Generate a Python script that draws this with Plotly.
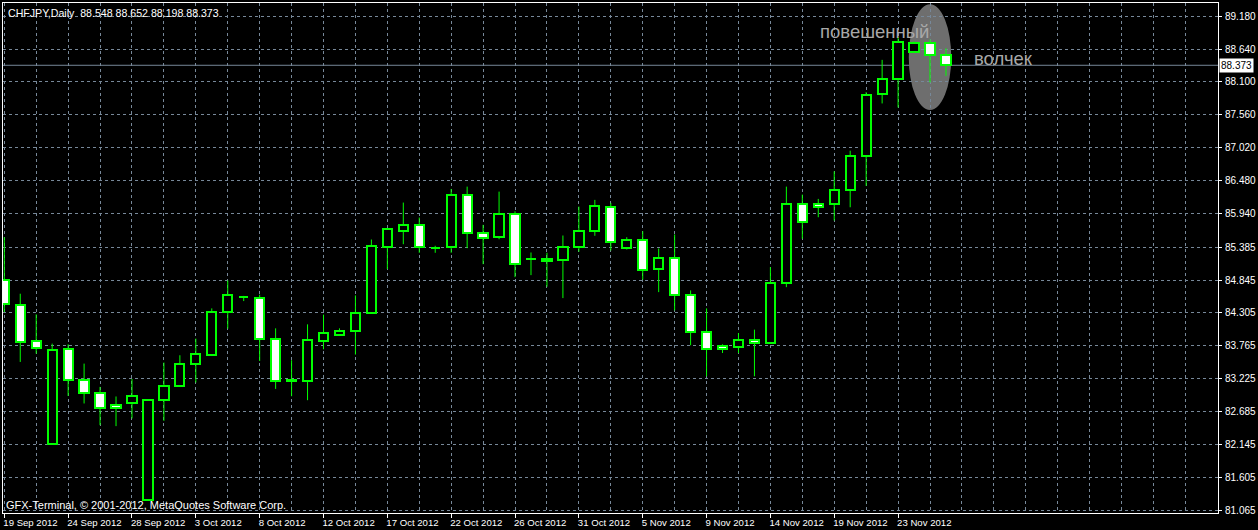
import plotly.graph_objects as go
from datetime import datetime

# ---------------- data ----------------
symbol = "CHFJPY"
timeframe = "Daily"

dates = [
    "2012-09-19", "2012-09-20", "2012-09-21", "2012-09-23", "2012-09-24", "2012-09-25",
    "2012-09-26", "2012-09-27", "2012-09-28", "2012-09-30", "2012-10-01", "2012-10-02",
    "2012-10-03", "2012-10-04", "2012-10-05", "2012-10-07", "2012-10-08", "2012-10-09",
    "2012-10-10", "2012-10-11", "2012-10-12", "2012-10-14", "2012-10-15", "2012-10-16",
    "2012-10-17", "2012-10-18", "2012-10-19", "2012-10-21", "2012-10-22", "2012-10-23",
    "2012-10-24", "2012-10-25", "2012-10-26", "2012-10-28", "2012-10-29", "2012-10-30",
    "2012-10-31", "2012-11-01", "2012-11-02", "2012-11-04", "2012-11-05", "2012-11-06",
    "2012-11-07", "2012-11-08", "2012-11-09", "2012-11-11", "2012-11-12", "2012-11-13",
    "2012-11-14", "2012-11-15", "2012-11-16", "2012-11-18", "2012-11-19", "2012-11-20",
    "2012-11-21", "2012-11-22", "2012-11-23", "2012-11-25", "2012-11-26", "2012-11-27",
]

opens = [
    84.839, 84.441, 83.851, 82.155, 83.713, 83.211, 82.982, 82.801, 82.818, 81.228,
    82.867, 83.106, 83.467, 83.621, 84.319, 84.572, 84.556, 83.883, 83.198, 83.195,
    83.851, 83.949, 84.015, 84.303, 85.392, 85.654, 85.752, 85.369, 85.392, 86.244,
    85.621, 85.555, 85.933, 85.195, 85.195, 85.178, 85.392, 85.654, 86.047, 85.375,
    85.506, 85.024, 85.211, 84.605, 83.998, 83.757, 83.752, 83.867, 83.818, 84.801,
    86.096, 86.096, 86.096, 86.326, 86.883, 87.900, 88.146, 88.598, 88.736, 88.548,
]
highs = [
    85.549, 84.621, 84.282, 83.801, 83.790, 83.473, 83.090, 82.933, 83.221, 82.870,
    83.490, 83.610, 83.883, 84.380, 84.839, 84.585, 84.605, 84.052, 83.528, 84.118,
    84.277, 84.052, 84.593, 85.511, 85.696, 86.118, 85.872, 85.408, 86.342, 86.380,
    85.752, 86.298, 85.975, 85.298, 85.293, 85.577, 86.052, 86.162, 86.113, 85.549,
    85.647, 85.364, 85.593, 84.675, 84.380, 83.790, 83.975, 84.031, 85.057, 86.380,
    86.249, 86.178, 86.631, 86.970, 87.932, 88.462, 88.839, 88.762, 88.795, 88.652,
]
lows = [
    84.319, 83.500, 83.637, 82.150, 82.942, 82.818, 82.462, 82.446, 82.572, 81.225,
    82.533, 83.090, 83.162, 83.610, 84.047, 84.500, 83.516, 83.057, 82.937, 82.872,
    83.708, 83.926, 83.621, 84.293, 85.024, 85.434, 85.293, 85.293, 85.293, 85.369,
    85.106, 85.516, 84.893, 84.926, 84.736, 84.549, 85.310, 85.572, 85.331, 85.347,
    84.851, 84.647, 84.347, 83.774, 83.265, 83.647, 83.647, 83.265, 83.815, 84.729,
    85.523, 85.877, 85.823, 86.041, 86.392, 87.746, 87.680, 88.577, 88.090, 88.198,
]
closes = [
    84.446, 83.834, 83.736, 83.703, 83.211, 82.982, 82.736, 82.736, 82.949, 82.867,
    83.097, 83.473, 83.626, 84.326, 84.605, 84.565, 83.883, 83.195, 83.190, 83.867,
    83.982, 84.015, 84.310, 85.401, 85.687, 85.752, 85.392, 85.364, 86.244, 85.621,
    85.539, 85.933, 85.113, 85.190, 85.162, 85.392, 85.654, 86.064, 85.474, 85.506,
    85.015, 85.211, 84.605, 83.998, 83.719, 83.719, 83.867, 83.818, 84.801, 86.096,
    85.801, 86.052, 86.326, 86.883, 87.893, 88.146, 88.752, 88.736, 88.544, 88.373,
]

price_tick_labels = [
    "89.180", "88.640", "88.100", "87.560", "87.020", "86.480", "85.940", "85.385",
    "84.845", "84.305", "83.765", "83.225", "82.685", "82.145", "81.605", "81.065",
]

label_hanging = "повешенный"
label_top = "волчек"
copyright_text = "GFX-Terminal, © 2001-2012, MetaQuotes Software Corp."

# ---------------- styling ----------------
GREEN = "#00ff00"
GRID = "#778899"
FONT = "Liberation Sans, Arial, sans-serif"
FS = 10

x = list(range(len(dates)))
bull = [c >= o for o, c in zip(opens, closes)]
body_base = [min(o, c) for o, c in zip(opens, closes)]
body_h = [abs(c - o) for o, c in zip(opens, closes)]
body_top = [max(o, c) for o, c in zip(opens, closes)]
fills = ["#000000" if b else "#ffffff" for b in bull]

wx, wy = [], []
for i in x:
    wx += [i, i, None, i, i, None]
    wy += [highs[i], body_top[i], None, body_base[i], lows[i], None]

fig = go.Figure()
fig.add_trace(go.Scatter(x=wx, y=wy, mode="lines", line=dict(color=GREEN, width=1),
                         hoverinfo="skip", showlegend=False))
fig.add_trace(go.Bar(x=x, y=body_h, base=body_base, width=0.58,
                     marker=dict(color=fills, line=dict(color=GREEN, width=2)),
                     hoverinfo="skip", showlegend=False))

tick_idx = x[::4]
tick_text = [f"{datetime.strptime(dates[i], '%Y-%m-%d').day} "
             f"{datetime.strptime(dates[i], '%Y-%m-%d').strftime('%b %Y')}" for i in tick_idx]

fig.update_layout(
    width=1258, height=530,
    margin=dict(l=2, r=38, t=2, b=17),
    paper_bgcolor="#000000", plot_bgcolor="#000000",
    font=dict(family=FONT, size=FS, color="#ffffff"),
    showlegend=False,
    bargap=0,
    xaxis=dict(
        range=[-0.081, 76.044], zeroline=False,
        tickmode="array", tickvals=tick_idx, ticktext=tick_text, tickangle=0,
        tickfont=dict(family=FONT, size=9.6, color="#ffffff"),
        ticks="outside", ticklen=4, tickcolor="#ffffff", tickwidth=1,
        ticklabelposition="outside right", ticklabelstandoff=0, ticklabelshift=-2,
        showgrid=True, gridcolor=GRID, griddash="3px,3px", gridwidth=1,
        minor=dict(tick0=0, dtick=2, showgrid=True, gridcolor=GRID,
                   griddash="3px,3px", gridwidth=1, ticks=""),
        showline=True, linecolor="#ffffff", linewidth=1, mirror=True,
        fixedrange=True,
    ),
    yaxis=dict(
        range=[81.019, 89.396], side="right", zeroline=False,
        tickmode="array", tickvals=[float(v) for v in price_tick_labels],
        ticktext=price_tick_labels,
        ticks="outside", ticklen=3, tickcolor="#ffffff", tickwidth=1,
        ticklabelstandoff=1,
        showgrid=True, gridcolor=GRID, griddash="3px,3px", gridwidth=1,
        showline=True, linecolor="#ffffff", linewidth=1, mirror=True,
        fixedrange=True,
    ),
)

# ellipse highlighting the pattern
fig.add_shape(type="circle", xref="x", yref="y", x0=56.67, x1=59.33, y0=87.637, y1=89.375,
              fillcolor="#6e6e6e", line=dict(width=0), layer="below")

# current price line
fig.add_shape(type="line", xref="paper", yref="y", x0=0, x1=1, y0=closes[-1], y1=closes[-1],
              line=dict(color=GRID, width=1), layer="between")

# current price label
fig.add_annotation(xref="paper", yref="y", x=1, y=closes[-1], xanchor="left", yanchor="middle",
                   xshift=1, text=f"{closes[-1]:.3f}", showarrow=False,
                   font=dict(family=FONT, size=FS, color="#000000"),
                   bgcolor="#ffffff", borderpad=1)

# header
fig.add_annotation(xref="paper", yref="paper", x=0, y=1, xanchor="left", yanchor="top",
                   xshift=3, yshift=-2,
                   text=f"{symbol},{timeframe}\u00a0\u00a0{opens[-1]:.3f} {highs[-1]:.3f} "
                        f"{lows[-1]:.3f} {closes[-1]:.3f}",
                   showarrow=False, font=dict(family=FONT, size=10.6, color="#ffffff"))

# copyright
fig.add_annotation(xref="paper", yref="paper", x=0, y=0, xanchor="left", yanchor="bottom",
                   xshift=1, yshift=0, text=copyright_text, showarrow=False,
                   font=dict(family=FONT, size=11, color="#ffffff"))

# pattern labels
fig.add_annotation(xref="x", yref="y", x=54.5, y=88.929, text=label_hanging, showarrow=False,
                   font=dict(family=FONT, size=18.5, color="#a8a8a8"))
fig.add_annotation(xref="x", yref="y", x=62.6, y=88.490, text=label_top, showarrow=False,
                   font=dict(family=FONT, size=18.5, color="#a8a8a8"))

fig.write_html("out.html", config={"displayModeBar": False},
               post_script="document.body.style.margin='0';")
